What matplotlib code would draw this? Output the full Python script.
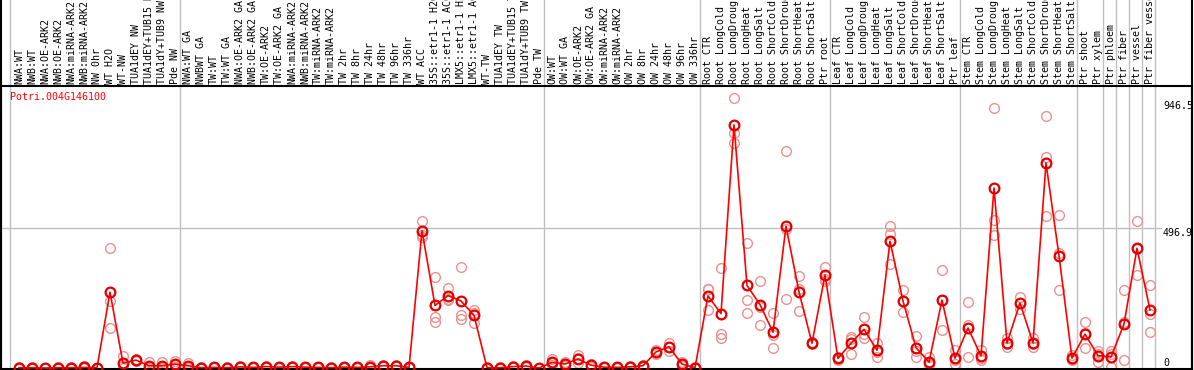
import matplotlib
matplotlib.use("Agg")
import matplotlib.pyplot as plt
import matplotlib.transforms as mtransforms
import numpy as np

title = "Potri.004G146100"

samples = [
    "NWA:WT", "NWB:WT", "NWA:OE-ARK2", "NWB:OE-ARK2", "NWA:miRNA-ARK2", "NWB:miRNA-ARK2",
    "NW 0hr", "WT H2O", "WT-NW", "TUA1dEY NW", "TUA1dEY+TUB15 NW", "TUA1dY+TUB9 NW", "Pde NW",
    "NWA:WT GA", "NWBWT GA", "TW:WT", "TW:WT GA", "NWA:OE-ARK2 GA", "NWB:OE-ARK2 GA",
    "TW:OE-ARK2", "TW:OE-ARK2 GA", "NWA:miRNA-ARK2", "NWB:miRNA-ARK2", "TW:miRNA-ARK2",
    "TW:miRNA-ARK2", "TW 2hr", "TW 8hr", "TW 24hr", "TW 48hr", "TW 96hr", "TW 336hr",
    "WT ACC", "35S::etr1-1 H2O", "35S::etr1-1 ACC", "LMX5::etr1-1 H2O", "LMX5::etr1-1 ACC",
    "WT-TW", "TUA1dEY TW", "TUA1dEY+TUB15 TW", "TUA1dY+TUB9 TW", "Pde TW",
    "OW:WT", "OW:WT GA", "OW:OE-ARK2", "OW:OE-ARK2 GA", "OW:miRNA-ARK2", "OW:miRNA-ARK2",
    "OW 2hr", "OW 8hr", "OW 24hr", "OW 48hr", "OW 96hr", "OW 336hr",
    "Root CTR", "Root LongCold", "Root LongDrought", "Root LongHeat", "Root LongSalt",
    "Root ShortCold", "Root ShortDrought", "Root ShortHeat", "Root ShortSalt", "Ptr root",
    "Leaf CTR", "Leaf LongCold", "Leaf LongDrought", "Leaf LongHeat", "Leaf LongSalt",
    "Leaf ShortCold", "Leaf ShortDrought", "Leaf ShortHeat", "Leaf ShortSalt", "Ptr leaf",
    "Stem CTR", "Stem LongCold", "Stem LongDrought", "Stem LongHeat", "Stem LongSalt",
    "Stem ShortCold", "Stem ShortDrought", "Stem ShortHeat", "Stem ShortSalt",
    "Ptr shoot", "Ptr xylem", "Ptr phloem", "Ptr fiber", "Ptr vessel", "Ptr fiber vessel",
]

mean_values = [
    1, 1, 0, 1, 1, 2, 1, 269, 17, 28, 8, 8, 14,
    8, 1, 2, 1, 4, 2, 5, 3, 5, 3, 2, 1, 3, 2, 4, 8, 8, 2,
    487, 222, 257, 238, 187, 1, 1, 5, 7, 0,
    20, 14, 32, 10, 3, 2, 4, 8, 57, 75, 14, 1,
    256, 193, 863, 293, 225, 127, 503, 270, 88, 330,
    34, 88, 137, 63, 450, 238, 72, 21, 241, 35,
    142, 43, 639, 89, 231, 89, 728, 398, 35,
    120, 44, 39, 156, 425, 206,
]

rep1 = [
    2, 2, 0, 2, 2, 6, 1, 426, 43, 32, 21, 20, 25,
    18, 2, 3, 2, 6, 3, 7, 5, 7, 5, 3, 2, 5, 3, 12, 10, 10, 3,
    522, 322, 283, 357, 206, 2, 2, 7, 9, 1,
    32, 20, 46, 15, 5, 3, 6, 12, 64, 89, 20, 2,
    282, 355, 957, 443, 309, 194, 770, 327, 92, 359,
    38, 111, 182, 90, 504, 277, 115, 39, 348, 64,
    234, 64, 923, 106, 252, 106, 894, 543, 46,
    162, 61, 60, 277, 523, 295,
]

rep2 = [
    1, 1, 0, 1, 1, 1, 1, 238, 8, 28, 3, 4, 12,
    6, 1, 2, 1, 4, 2, 5, 3, 5, 3, 2, 1, 3, 2, 4, 8, 8, 2,
    472, 182, 245, 188, 196, 1, 1, 5, 7, 0,
    18, 14, 34, 10, 3, 2, 4, 8, 57, 75, 14, 1,
    280, 120, 835, 240, 217, 116, 492, 282, 88, 315,
    34, 102, 122, 58, 475, 238, 60, 14, 241, 28,
    153, 36, 525, 85, 231, 85, 749, 408, 32,
    125, 50, 50, 165, 422, 191,
]

rep3 = [
    0, 0, 0, 0, 0, 0, 0, 142, 0, 25, 0, 0, 5,
    0, 0, 1, 0, 2, 1, 3, 1, 3, 1, 1, 0, 1, 1, 0, 6, 6, 1,
    466, 164, 241, 173, 159, 0, 0, 3, 5, 0,
    10, 8, 16, 5, 1, 1, 2, 4, 50, 60, 8, 0,
    206, 105, 798, 196, 152, 70, 244, 202, 84, 309,
    30, 49, 108, 40, 368, 200, 40, 10, 135, 14,
    40, 29, 472, 76, 210, 76, 540, 277, 27,
    70, 20, 5, 27, 330, 127,
]

separators_after = [13, 41, 53, 63, 73, 82, 84, 85, 86, 87, 88]
y_marks = ["946.5", "496.9", "0"]

# ---------------------------------------------------------------
W, H = 1194, 370
fig = plt.figure(figsize=(W / 100, H / 100), dpi=100)
fig.patch.set_facecolor("white")

top_px, bot_px, left_px, right_px = 86, 369, 1, 1192
ax = fig.add_axes([left_px / W, (H - bot_px) / H,
                   (right_px - left_px) / W, (bot_px - top_px) / H])
ax.set_facecolor("white")

x = np.arange(len(samples))
px_per_unit = 140 / 496.9
ax.set_xlim((left_px - 19) / 13, (right_px - 19) / 13)
ax.set_ylim(-(bot_px - 368) / px_per_unit, (368 - top_px) / px_per_unit)
ax.set_xticks([])
ax.set_yticks([])
for s in ax.spines.values():
    s.set_color("black")
    s.set_linewidth(1.5)

font = "DejaVu Sans Mono"
fs = 7.2

# full-height grey separators
trans_fig_y = mtransforms.blended_transform_factory(ax.transData, fig.transFigure)
sep_x = [-0.69] + [i - 1 + 0.4 for i in separators_after]
for sx in sep_x:
    ax.plot([sx, sx], [0, 1], color="#c0c0c0", lw=1.0, transform=trans_fig_y,
            clip_on=False, zorder=0.5)

# left/right borders extending through label area
trans_ax_fig = mtransforms.blended_transform_factory(ax.transAxes, fig.transFigure)
for bx in (0, 1):
    ax.plot([bx, bx], [0, 1], color="black", lw=1.5, transform=trans_ax_fig,
            clip_on=False, zorder=5)

# grey horizontal reference line
ax.plot([ax.get_xlim()[0], (1161 - 19) / 13], [496.9, 496.9], color="#c0c0c0",
        lw=1.0, zorder=0.6)

# sample labels in the header
trans_lab = mtransforms.blended_transform_factory(ax.transData, ax.transAxes)
for xi, lab in zip(x, samples):
    ax.text(xi, 1.0 + 2 / (bot_px - top_px), lab, rotation=90, ha="center", va="bottom",
            fontsize=fs, family=font, color="black", transform=trans_lab, clip_on=False)

# replicates
for rep in (rep1, rep2, rep3):
    ax.plot(x, rep, linestyle="none", marker="o", markersize=7, markerfacecolor="none",
            markeredgecolor="#ec9090", markeredgewidth=1.0, zorder=2, clip_on=False)

# mean line and markers
ax.plot(x, mean_values, color="#ff0000", lw=1.2, zorder=3)
ax.plot(x, mean_values, linestyle="none", marker="o", markersize=7, markerfacecolor="none",
        markeredgecolor="#e00000", markeredgewidth=1.6, zorder=4)

# title
fig.text(10 / W, 1 - 97 / H, title, fontsize=fs, family=font, color="#ff0000",
         ha="left", va="center")

# right-hand value labels
trans_r = mtransforms.blended_transform_factory(fig.transFigure, ax.transData)
for lab in y_marks:
    v = float(lab)
    ax.text(1163 / W, v, lab, transform=trans_r,
            fontsize=fs, family=font, color="black", ha="left",
            va="bottom" if v == 0 else "top", clip_on=False, zorder=6)

fig.savefig("out.png", dpi=100, facecolor="white")
